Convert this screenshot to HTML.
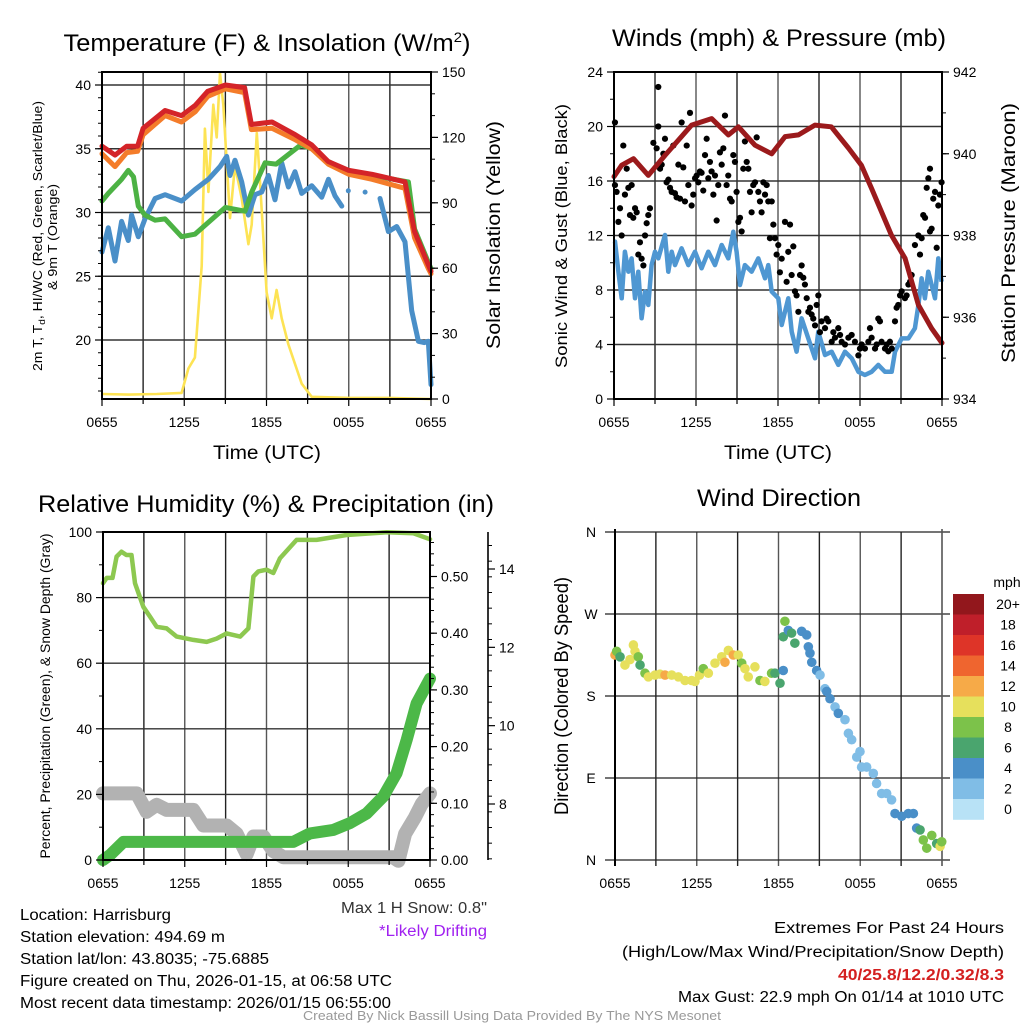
<!DOCTYPE html>
<html><head><meta charset="utf-8"><style>
html,body{margin:0;padding:0;background:#fff}
svg{display:block;font-family:"Liberation Sans",sans-serif}
.tk{font-size:14px;fill:#000}
.cond{font-family:"Liberation Sans Narrow","Liberation Sans",sans-serif}
</style></head><body>
<svg id="chart" xmlns="http://www.w3.org/2000/svg" width="1024" height="1024" viewBox="0 0 1024 1024">
<rect width="1024" height="1024" fill="#fff"/>
<g id="p1"></g>
<g id="p2"></g>
<g id="p3"></g>
<g id="p4"></g>

<text x="267" y="51" text-anchor="middle" font-size="24" textLength="407" lengthAdjust="spacingAndGlyphs">Temperature (F) &amp; Insolation (W/m<tspan dy="-9" font-size="14">2</tspan><tspan dy="9">)</tspan></text>
<text x="779" y="46" text-anchor="middle" font-size="24" textLength="334" lengthAdjust="spacingAndGlyphs">Winds (mph) &amp; Pressure (mb)</text>
<text x="266" y="512" text-anchor="middle" font-size="24" textLength="456" lengthAdjust="spacingAndGlyphs">Relative Humidity (%) &amp; Precipitation (in)</text>
<text x="779" y="506" text-anchor="middle" font-size="24" textLength="164" lengthAdjust="spacingAndGlyphs">Wind Direction</text>

<text x="267" y="459" text-anchor="middle" font-size="19" textLength="108" lengthAdjust="spacingAndGlyphs">Time (UTC)</text>
<text x="778" y="459" text-anchor="middle" font-size="19" textLength="108" lengthAdjust="spacingAndGlyphs">Time (UTC)</text>

<text transform="translate(42,236) rotate(-90)" text-anchor="middle" font-size="12.5" textLength="270" lengthAdjust="spacingAndGlyphs">2m T, T<tspan font-size="9" dy="3">d</tspan><tspan dy="-3">, HI/WC (Red, Green, Scarlet/Blue)</tspan></text>
<text transform="translate(57,237) rotate(-90)" text-anchor="middle" font-size="12.5" textLength="106" lengthAdjust="spacingAndGlyphs">&amp; 9m T (Orange)</text>
<text transform="translate(500,235) rotate(-90)" text-anchor="middle" font-size="19" textLength="228" lengthAdjust="spacingAndGlyphs">Solar Insolation (Yellow)</text>
<text transform="translate(567,236) rotate(-90)" text-anchor="middle" font-size="17" textLength="264" lengthAdjust="spacingAndGlyphs">Sonic Wind &amp; Gust (Blue, Black)</text>
<text transform="translate(1015,233) rotate(-90)" text-anchor="middle" font-size="19" textLength="260" lengthAdjust="spacingAndGlyphs">Station Pressure (Maroon)</text>
<text transform="translate(50,696) rotate(-90)" text-anchor="middle" font-size="13.5" textLength="325" lengthAdjust="spacingAndGlyphs">Percent, Precipitation (Green), &amp; Snow Depth (Gray)</text>
<text transform="translate(568,696) rotate(-90)" text-anchor="middle" font-size="19" textLength="238" lengthAdjust="spacingAndGlyphs">Direction (Colored By Speed)</text>

<g class="cond" font-size="15.5">
<text x="487" y="913" text-anchor="end" fill="#333" textLength="146" lengthAdjust="spacingAndGlyphs">Max 1 H Snow: 0.8"</text>
<text x="487" y="936" text-anchor="end" fill="#a020f0" textLength="108" lengthAdjust="spacingAndGlyphs">*Likely Drifting</text>
<text x="20" y="920" textLength="151" lengthAdjust="spacingAndGlyphs">Location: Harrisburg</text>
<text x="20" y="942" textLength="205" lengthAdjust="spacingAndGlyphs">Station elevation: 494.69 m</text>
<text x="20" y="964" textLength="249" lengthAdjust="spacingAndGlyphs">Station lat/lon: 43.8035; -75.6885</text>
<text x="20" y="986" textLength="372" lengthAdjust="spacingAndGlyphs">Figure created on Thu, 2026-01-15, at 06:58 UTC</text>
<text x="20" y="1008" textLength="371" lengthAdjust="spacingAndGlyphs">Most recent data timestamp: 2026/01/15 06:55:00</text>
<text x="1004" y="933" text-anchor="end" textLength="230" lengthAdjust="spacingAndGlyphs">Extremes For Past 24 Hours</text>
<text x="1004" y="957" text-anchor="end" textLength="382" lengthAdjust="spacingAndGlyphs">(High/Low/Max Wind/Precipitation/Snow Depth)</text>
<text x="1004" y="980" text-anchor="end" fill="#d42020" font-weight="bold" textLength="166" lengthAdjust="spacingAndGlyphs">40/25.8/12.2/0.32/8.3</text>
<text x="1004" y="1002" text-anchor="end" textLength="326" lengthAdjust="spacingAndGlyphs">Max Gust: 22.9 mph On 01/14 at 1010 UTC</text>
<text x="512" y="1020" text-anchor="middle" fill="#999" font-size="13" textLength="418" lengthAdjust="spacingAndGlyphs">Created By Nick Bassill Using Data Provided By The NYS Mesonet</text>
</g>
</svg>
<script>
// ---------- data (hours since 0655 UTC) ----------
const timeTickLabels = ["0655","1255","1855","0055","0655"];
// Temperature panel
const redH = [0,0.95,1.8,2.6,3.0,4.6,5.8,6.8,7.7,9.0,10.4,10.9,12.4,14.1,15.3,16.5,18.0,19.7,22.1,22.8,23.8,24];
const redT = [35.2,34.5,35.2,35.2,36.6,38.0,37.6,38.4,39.5,40.0,39.8,36.9,37.1,36.1,35.3,34.0,33.3,33.0,32.4,28.5,25.9,25.4];
const orangeH = [0,0.95,1.8,2.6,3.0,4.6,5.8,6.8,7.7,9.0,10.4,10.9,12.4,14.1,15.3,16.5,18.0,19.7,22.1,22.8,23.8,24];
const orangeT = [34.6,33.6,34.7,34.8,36.1,37.6,37.1,37.9,39.1,39.7,39.4,36.5,36.6,35.7,35.0,33.8,33.0,32.6,31.9,28.0,25.6,25.2];
const greenH = [0,0.46,1.43,1.92,2.3,2.65,3.14,3.87,4.6,5.81,6.78,9.0,10.43,10.92,11.9,12.7,14.5,15.3,16.5,18.0,19.7,22.35,22.8,23.8,24];
const greenT = [30.9,31.5,32.6,33.3,32.8,30.5,29.8,29.4,29.5,28.1,28.3,30.4,30.1,31.6,33.9,33.8,35.3,35.0,34.0,33.2,32.9,32.4,28.7,26.1,25.6];
const blueH = [0,0.46,0.95,1.43,1.92,2.16,2.65,3.14,3.87,4.6,5.81,6.78,7.76,8.61,9.1,9.34,9.7,10.19,10.68,11.16,11.65,12.14,12.62,13.11,13.6,14.08,14.57,15.3,16.03,16.52,17.0,17.49,null,17.97,null,19.19,null,20.28,20.89,21.5,22.1,22.59,23.08,23.5,23.8,24];
const blueT = [26.9,28.8,26.2,29.3,27.8,29.8,28.1,29.5,31.1,31.4,30.9,31.8,32.6,33.6,34.4,32.9,34.1,32.4,29.8,31.4,31.6,32.9,31.0,33.9,32.0,33.2,31.5,32.1,31.2,32.6,31.3,30.5,null,31.7,null,31.6,null,31.1,28.5,28.9,27.7,22.3,19.9,19.8,19.9,16.5];
const solarH = [0,2.0,4.0,5.81,6.3,6.78,7.27,7.51,7.76,8.12,8.37,8.61,8.85,9.34,9.7,10.19,10.68,10.92,11.29,11.53,12.01,12.38,12.74,13.11,13.6,14.57,15.3,18,21,24];
const solarW = [2.3,2.0,2.3,2.8,14,19,61,124,95,135,120,149.5,135,83,107,92,71,80,122,99,49,37,50,37,25,7,1,0.5,0.5,0];
// Wind panel
const presH = [0,0.56,1.43,2.51,3.73,5.68,7.14,8.37,9.1,10.32,11.54,12.52,13.5,14.7,15.9,17.15,18.1,18.85,20.3,21.3,22.27,23.24,24];
const presMb = [939.44,939.72,939.88,939.47,939.96,940.70,940.86,940.46,940.66,940.21,940.0,940.42,940.46,940.70,940.66,940.14,939.72,939.15,938.01,937.44,936.30,935.73,935.37];
const windH = [0.07,0.32,0.56,0.8,1.05,1.29,1.54,1.78,2.02,2.27,2.51,2.75,3.0,3.24,3.73,3.97,4.22,4.46,4.95,5.44,5.93,6.41,6.9,7.39,7.88,8.36,8.73,8.97,9.22,9.58,10.07,10.56,11.05,11.29,11.54,12.02,12.27,12.75,13.0,13.36,13.73,14.22,14.71,14.95,15.44,15.93,16.41,16.9,17.39,17.88,18.36,18.85,19.34,19.83,20.32,20.56,21.05,21.54,22.02,22.27,22.51,22.75,23.0,23.49,23.73,23.97];
const windMph = [11.55,9.34,7.39,10.81,9.34,10.32,7.39,9.34,5.92,7.88,6.90,9.83,10.81,10.32,12.04,9.34,10.81,9.83,11.06,9.83,10.81,9.59,10.81,9.83,11.30,10.32,12.28,10.81,8.37,9.83,9.34,10.32,8.86,9.83,7.88,7.39,5.43,7.39,4.94,3.47,5.92,4.45,2.99,4.94,3.23,3.47,2.50,3.47,2.99,2.0,1.76,2.0,2.5,2.0,2.0,3.47,4.45,4.45,5.19,6.9,8.86,7.39,9.34,7.39,10.32,8.61];
const gustH = [0.07,0.07,0.19,0.32,0.44,0.56,0.68,0.80,0.93,1.05,1.17,1.29,1.41,1.54,1.66,1.78,1.90,2.02,2.15,2.27,2.39,2.51,2.63,2.88,3.12,3.24,3.24,3.37,3.49,3.61,3.73,3.85,3.98,4.10,4.22,4.34,4.46,4.58,4.71,4.83,4.95,5.07,5.19,5.32,5.44,5.56,5.68,5.80,5.93,6.05,6.17,6.29,6.41,6.53,6.66,6.78,6.90,7.02,7.14,7.27,7.39,7.51,7.63,7.75,7.88,8.00,8.12,8.24,8.36,8.49,8.61,8.73,8.85,8.97,9.10,9.22,9.34,9.46,9.58,9.71,9.83,9.95,10.07,10.19,10.32,10.44,10.56,10.68,10.80,10.93,11.05,11.17,11.29,11.41,11.54,11.66,11.78,11.90,12.02,12.14,12.27,12.51,12.63,12.75,12.88,13.00,13.12,13.24,13.36,13.49,13.61,13.73,13.85,13.97,14.10,14.22,14.34,14.46,14.58,14.71,14.83,14.95,15.07,15.19,15.44,15.56,15.68,15.93,16.05,16.17,16.41,16.54,16.66,16.90,17.15,17.39,17.63,17.88,18.00,18.12,18.36,18.61,18.73,18.85,19.10,19.22,19.34,19.46,19.58,19.83,19.95,20.07,20.19,20.32,20.56,20.68,20.80,20.93,21.05,21.29,21.41,21.54,21.66,21.78,22.02,22.27,22.39,22.51,22.63,22.76,22.88,23.00,23.12,23.24,23.36,23.49,23.61,23.73,23.85,23.97,23.12];
const gustMph = [20.3,15.7,15.2,13.0,14.0,12.0,18.6,15.0,16.9,15.5,13.5,15.7,13.3,14.0,13.7,10.6,11.5,10.3,9.8,12.0,12.9,13.5,14.0,18.8,18.4,22.9,20.0,16.9,17.2,18.0,19.1,15.9,16.1,15.5,15.2,18.6,15.1,14.8,17.2,14.7,20.3,17.0,14.5,18.6,15.7,21.0,14.2,15.0,16.2,16.4,15.9,16.7,16.6,15.3,17.9,19.1,16.2,17.4,16.7,15.0,16.4,13.1,15.7,18.1,17.2,18.4,20.8,15.7,16.4,14.7,14.5,17.9,17.4,15.2,13.0,13.3,12.3,16.9,18.9,17.4,16.9,15.2,13.7,15.7,15.9,19.2,15.2,14.5,13.7,15.9,15.0,15.7,14.5,11.8,14.5,12.8,11.8,10.6,11.3,9.3,10.3,13.0,8.6,10.8,12.8,9.1,11.2,7.9,7.6,6.4,9.1,9.8,8.9,8.4,7.4,6.4,6.7,6.2,5.9,5.4,6.9,7.6,4.9,5.7,5.2,5.9,5.7,4.2,4.9,4.5,5.2,4.7,4.2,4.0,4.5,4.7,4.2,3.2,3.7,4.0,3.7,4.2,5.2,4.5,3.7,4.0,5.9,5.7,4.2,3.7,4.0,3.5,4.2,3.7,5.7,6.7,6.9,7.6,7.9,7.4,7.6,8.4,8.6,9.1,11.3,12.0,10.6,11.8,13.5,13.3,15.5,16.2,12.3,12.5,14.7,15.2,11.1,14.2,15.0,15.9,16.9];
// Humidity panel
const rhH = [0,0.27,0.7,1.0,1.36,1.72,2.09,2.35,2.96,3.45,3.94,4.67,5.41,6.63,7.61,8.34,9.08,10.06,10.67,11.04,11.4,12.0,12.5,12.99,14.21,15.68,17.88,20.82,22.78,24];
const rhPct = [84.4,86,86,92.5,94,93,93,84.4,77.2,74.2,71.1,70.6,68.1,67.1,66.5,67.5,69.1,68.1,70.6,86.4,88,88.5,87.5,92,97.6,97.6,99.1,99.9,99.6,97.8];
const precipH = [0,0.52,1.5,13.97,15.19,16.9,18.13,19.35,20.57,21.55,22.29,23.02,24];
const precipIn = [0,0.009,0.032,0.032,0.047,0.053,0.065,0.082,0.112,0.153,0.212,0.276,0.32];
const snowH = [0,2.47,3.2,3.94,4.67,6.63,7.36,9.08,9.81,10.55,11.04,11.77,12.5,13.24,21.31,21.68,22.17,22.9,23.39,24];
const snowIn = [8.27,8.27,7.8,7.98,7.85,7.85,7.45,7.45,7.24,6.72,7.17,7.17,6.8,6.64,6.64,6.55,7.24,7.66,8.0,8.27];
// Wind direction panel
const dirH = [0.0,0.12,0.37,0.73,1.1,1.35,1.47,1.71,1.84,2.2,2.45,2.94,3.3,3.67,4.16,4.65,5.14,5.62,5.87,6.2,6.48,6.85,7.34,7.83,8.07,8.32,8.68,9.05,9.3,9.54,9.78,10.27,10.64,11.0,11.49,11.74,12.11,12.35,12.47,12.35,12.72,12.96,13.2,13.7,14.07,14.19,14.31,14.44,14.8,15.05,15.41,15.54,15.78,16.15,16.39,16.88,17.13,17.37,17.74,17.98,18.1,18.47,18.96,19.2,19.57,19.94,20.3,20.55,21.04,21.53,21.9,22.14,22.39,22.63,22.88,23.25,23.61,23.86,23.98];
const dirDeg = [225,229,223,214,220,236,229,223,214,205,201,203,204,203,203,201,197,197,196,203,210,205,216,223,217,230,225,225,216,210,201,212,197,196,205,205,194,208,262,245,252,249,238,251,247,234,227,217,208,203,188,185,177,168,161,154,139,132,113,119,102,102,95,84,73,73,66,51,48,51,51,35,33,22,13,27,18,15,20];
const dirSpd = [12,8,6,10,10,10,10,8,6,8,10,10,10,12,10,10,10,10,10,10,8,10,10,10,12,10,12,10,8,10,10,10,8,10,8,6,6,4,8,6,4,6,6,4,4,4,4,4,4,2,2,4,4,2,4,2,2,2,2,2,2,2,2,2,2,2,2,4,4,4,4,4,6,8,8,8,6,10,8];
const speedBins = [0,2,4,6,8,10,12,14,16,18,20];
const speedLabels = ["0","2","4","6","8","10","12","14","16","18","20+"];
const speedColors = ["#b8e2f6","#80bde6","#4a8fc8","#4aa56e","#7cc24a","#e6e05c","#f6aa48","#ef652f","#de3428","#bf1f2a","#92171c"];

// ---------- helpers ----------
const NS = "http://www.w3.org/2000/svg";
function el(parent, tag, attrs){
  const e = document.createElementNS(NS, tag);
  for (const k in attrs) e.setAttribute(k, attrs[k]);
  parent.appendChild(e);
  return e;
}
function lin(d0,d1,r0,r1){ return v => r0 + (v-d0)/(d1-d0)*(r1-r0); }
function pathD(xs, ys, sx, sy){
  let d = "", pen = false;
  for (let i=0;i<xs.length;i++){
    if (xs[i]===null || ys[i]===null){ pen=false; continue; }
    if (pen) d += "L" + sx(xs[i]).toFixed(1) + "," + sy(ys[i]).toFixed(1);
    else d += "M" + sx(xs[i]).toFixed(1) + "," + sy(ys[i]).toFixed(1) + "l0.01,0";
    pen = true;
  }
  return d;
}
function frame(g, x0, x1, y0, y1, hLines, sy, sx){
  for (let h=3; h<24; h+=3){
    const l = el(g,"line",{x1:sx(h),x2:sx(h),y1:y0,y2:y1,stroke:(h%6===0?"#555":"#222"),"stroke-width":1.4});
    
    
  }
  hLines.forEach(v=>{
    const l = el(g,"line",{x1:x0,x2:x1,y1:sy(v),y2:sy(v),stroke:"#333","stroke-width":1.4});
    
    
  });
}
function border(g,x0,x1,y0,y1){
  const r = el(g,"rect",{x:x0,y:y0,width:x1-x0,height:y1-y0,fill:"none",stroke:"#000","stroke-width":2});
  
  
}
function xTicks(g, sx, yb){
  for (let h=0; h<=24; h+=3){
    el(g,"line",{x1:sx(h),x2:sx(h),y1:yb,y2:yb+(h%6===0?7:5),stroke:"#000","stroke-width":1.2});
  }
  timeTickLabels.forEach((t,i)=>{
    const tx = el(g,"text",{x:sx(i*6),y:yb+28,"text-anchor":"middle",class:"tk"});
    tx.textContent = t;
    
    
  });
}
function yTicks(g, x, vals, sy, side, labelFn, minor, len){
  const dir = side==="left" ? -1 : 1;
  vals.forEach(v=>{
    el(g,"line",{x1:x,x2:x+dir*(len||7),y1:sy(v),y2:sy(v),stroke:"#000","stroke-width":1.2});
    const tx = el(g,"text",{x:x+dir*11,y:sy(v)+5,"text-anchor":side==="left"?"end":"start",class:"tk"});
    tx.textContent = labelFn(v);
    
    
  });
  (minor||[]).forEach(v=>{
    el(g,"line",{x1:x,x2:x+dir*4,y1:sy(v),y2:sy(v),stroke:"#000","stroke-width":1});
  });
}
function range(a,b,s){ const r=[]; for(let v=a; v<=b+1e-9; v+=s) r.push(+v.toFixed(4)); return r; }

// ---------- Panel 1 ----------
(function(){
  const g = document.getElementById("p1");
  const X0=102,X1=431,Y0=72,Y1=399;
  const sx = lin(0,24,X0,X1);
  const sy = lin(40,20,85,340);
  const sr = lin(0,150,Y1,Y0);
  frame(g,X0,X1,Y0,Y1,[20,25,30,35,40],sy,sx);
  const sol = el(g,"path",{d:pathD(solarH,solarW,sx,sr),fill:"none",stroke:"#fde354","stroke-width":2.6,"stroke-linejoin":"round"});
  
  
  const bl = el(g,"path",{d:pathD(blueH,blueT,sx,sy),fill:"none",stroke:"#4a8fc8","stroke-width":5,"stroke-linejoin":"round","stroke-linecap":"round"});
  
  
  const gr = el(g,"path",{d:pathD(greenH,greenT,sx,sy),fill:"none",stroke:"#4cb244","stroke-width":5,"stroke-linejoin":"round","stroke-linecap":"round"});
  
  
  const or = el(g,"path",{d:pathD(orangeH,orangeT,sx,sy),fill:"none",stroke:"#f47c2a","stroke-width":5,"stroke-linejoin":"round","stroke-linecap":"round"});
  
  
  const rd = el(g,"path",{d:pathD(redH,redT,sx,sy),fill:"none",stroke:"#d42428","stroke-width":5,"stroke-linejoin":"round","stroke-linecap":"round"});
  
  
  border(g,X0,X1,Y0,Y1);
  yTicks(g,X0,[20,25,30,35,40],sy,"left",v=>v,range(16,41,1),7);
  yTicks(g,X1,[0,30,60,90,120,150],sr,"right",v=>v,range(10,150,10),7);
  xTicks(g,sx,Y1);
})();

// ---------- Panel 2 ----------
(function(){
  const g = document.getElementById("p2");
  const X0=614,X1=942,Y0=72,Y1=399;
  const sx = lin(0,24,X0,X1);
  const sy = lin(0,24,Y1,Y0);
  const sp = lin(934,942,Y1,Y0);
  frame(g,X0,X1,Y0,Y1,[4,8,12,16,20],sy,sx);
  const wl = el(g,"path",{d:pathD(windH,windMph,sx,sy),fill:"none",stroke:"#4f97d2","stroke-width":4.5,"stroke-linejoin":"round"});
  
  
  gustH.forEach((h,i)=>{
    const c = el(g,"circle",{cx:sx(h),cy:sy(gustMph[i]),r:3.1,fill:"#000"});
    
    
  });
  const pl = el(g,"path",{d:pathD(presH,presMb,sx,sp),fill:"none",stroke:"#9b1a1c","stroke-width":5,"stroke-linejoin":"round","stroke-linecap":"round"});
  
  
  border(g,X0,X1,Y0,Y1);
  yTicks(g,X0,[0,4,8,12,16,20,24],sy,"left",v=>v,range(2,22,4),7);
  yTicks(g,X1,[934,936,938,940,942],sp,"right",v=>v,range(935,941,1),7);
  xTicks(g,sx,Y1);
})();

// ---------- Panel 3 ----------
(function(){
  const g = document.getElementById("p3");
  const X0=103,X1=430,Y0=532,Y1=860;
  const sx = lin(0,24,X0,X1);
  const sy = lin(0,100,Y1,Y0);
  const sprc = lin(0,0.5,860,576.5);
  const ssn = lin(8,14,804,569);
  frame(g,X0,X1,Y0,Y1,[20,40,60,80,100],sy,sx);
  const sn = el(g,"path",{d:pathD(snowH,snowIn,sx,ssn),fill:"none",stroke:"#b2b2b2","stroke-width":14,"stroke-linejoin":"round","stroke-linecap":"round"});
  
  
  const pr = el(g,"path",{d:pathD(precipH,precipIn,sx,sprc),fill:"none",stroke:"#4cb848","stroke-width":12,"stroke-linejoin":"round","stroke-linecap":"round"});
  
  
  const rh = el(g,"path",{d:pathD(rhH,rhPct,sx,sy),fill:"none",stroke:"#8dc850","stroke-width":4.5,"stroke-linejoin":"round","stroke-linecap":"round"});
  
  
  border(g,X0,X1,Y0,Y1);
  yTicks(g,X0,[0,20,40,60,80,100],sy,"left",v=>v,range(10,90,20),7);
  yTicks(g,X1,[0,0.1,0.2,0.3,0.4,0.5],sprc,"right",v=>v.toFixed(2),range(0.02,0.56,0.02),7);
  const ax = el(g,"line",{x1:488,x2:488,y1:Y0,y2:Y1,stroke:"#000","stroke-width":1.6});
  
  
  yTicks(g,488,[8,10,12,14],ssn,"right",v=>v,range(6.6,15.2,0.4).filter(v=>ssn(v)>=Y0&&ssn(v)<=Y1),7);
  xTicks(g,sx,Y1);
})();

// ---------- Panel 4 ----------
(function(){
  const g = document.getElementById("p4");
  const X0=615,X1=942,Y0=532,Y1=860;
  const sx = lin(0,24,X0,X1);
  const sy = lin(0,360,Y1,Y0);
  for (let h=3; h<24; h+=3){
    el(g,"line",{x1:sx(h),x2:sx(h),y1:Y0,y2:Y1+6,stroke:(h%6===0?"#555":"#222"),"stroke-width":1.4});
  }
  const lbl = ["N","E","S","W","N"];
  [0,90,180,270,360].forEach((v,i)=>{
    el(g,"line",{x1:X0-10,x2:950,y1:sy(v),y2:sy(v),stroke:"#222","stroke-width":1.3});
    const t = el(g,"text",{x:591,y:sy(v)+5,"text-anchor":"middle",class:"tk"});
    t.textContent = lbl[i];
    
    
  });
  el(g,"line",{x1:X0,x2:X0,y1:Y0-3,y2:Y1+6,stroke:"#000","stroke-width":2});
  el(g,"line",{x1:X1,x2:X1,y1:Y0-3,y2:Y1+6,stroke:"#555","stroke-width":1.6});
  function colorFor(s){ let c=speedColors[0]; speedBins.forEach((b,i)=>{ if(s>=b) c=speedColors[i]; }); return c; }
  dirH.forEach((h,i)=>{
    const c = el(g,"circle",{cx:sx(h),cy:sy(dirDeg[i]),r:4.8,fill:colorFor(dirSpd[i])});
    
    
  });
  timeTickLabels.forEach((t,i)=>{
    const tx = el(g,"text",{x:sx(i*6),y:888,"text-anchor":"middle",class:"tk"});
    tx.textContent = t;
    
    
  });
  const cb = el(g,"g",{});
  
  
  const bh = 20.5, top = 594;
  speedColors.slice().reverse().forEach((c,i)=>{
    const r = el(cb,"rect",{x:953,y:top+i*bh,width:31,height:bh+0.3,fill:c});
    
    
    const t = el(cb,"text",{x:1008,y:top+i*bh+15,"text-anchor":"middle",class:"tk"});
    t.textContent = speedLabels[speedLabels.length-1-i];
    
    
  });
  const u = el(cb,"text",{x:1007,y:587,"text-anchor":"middle",class:"tk"});
  u.textContent = "mph";
  
  
})();
</script>
</body></html>
